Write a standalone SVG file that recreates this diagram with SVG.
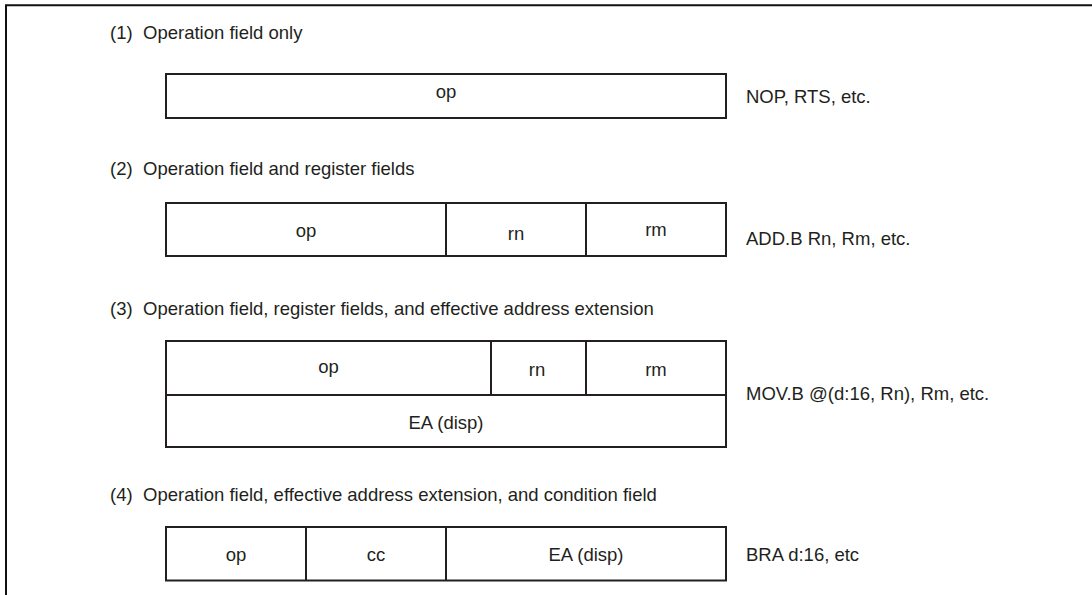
<svg xmlns="http://www.w3.org/2000/svg" width="1092" height="595" viewBox="0 0 1092 595">
  <style>
    .frame { fill: none; stroke: #111; stroke-width: 2; }
    .box { fill: #fff; stroke: #231f20; stroke-width: 2; }
    .div { stroke: #231f20; stroke-width: 2; }
    text { font-family: "Liberation Sans", Arial, sans-serif; font-size: 18.5px; fill: #231f20; }
    .c { text-anchor: middle; }
  </style>
  <rect width="1092" height="595" fill="#fff"/>
  <path class="frame" d="M1092,5.3 H6 V595"/>

  <g id="section1">
    <text x="110" y="39">(1)</text>
    <text x="143" y="39">Operation field only</text>
    <g id="box1">
      <rect class="box" x="166" y="74" width="560" height="44"/>
      <text class="c" x="446" y="98">op</text>
    </g>
    <text x="746" y="103">NOP, RTS, etc.</text>
  </g>

  <g id="section2">
    <text x="110" y="175">(2)</text>
    <text x="143" y="175">Operation field and register fields</text>
    <g id="box2">
      <rect class="box" x="166" y="203" width="560" height="53"/>
      <line class="div" x1="446" y1="203" x2="446" y2="256"/>
      <line class="div" x1="586" y1="203" x2="586" y2="256"/>
      <text class="c" x="306" y="237">op</text>
      <text class="c" x="516" y="240">rn</text>
      <text class="c" x="656" y="236">rm</text>
    </g>
    <text x="746" y="245">ADD.B Rn, Rm, etc.</text>
  </g>

  <g id="section3">
    <text x="110" y="315">(3)</text>
    <text x="143" y="315">Operation field, register fields, and effective address extension</text>
    <g id="box3">
      <rect class="box" x="166" y="341" width="560" height="106"/>
      <line class="div" x1="166" y1="395" x2="726" y2="395"/>
      <line class="div" x1="491" y1="341" x2="491" y2="395"/>
      <line class="div" x1="586" y1="341" x2="586" y2="395"/>
      <text class="c" x="328.5" y="373">op</text>
      <text class="c" x="537" y="376">rn</text>
      <text class="c" x="656" y="376">rm</text>
      <text class="c" x="446" y="429">EA (disp)</text>
    </g>
    <text x="746" y="400">MOV.B @(d:16, Rn), Rm, etc.</text>
  </g>

  <g id="section4">
    <text x="110" y="501">(4)</text>
    <text x="143" y="501">Operation field, effective address extension, and condition field</text>
    <g id="box4">
      <rect class="box" x="166" y="527" width="560" height="53.5"/>
      <line class="div" x1="306" y1="527" x2="306" y2="580.5"/>
      <line class="div" x1="446" y1="527" x2="446" y2="580.5"/>
      <text class="c" x="236" y="561">op</text>
      <text class="c" x="376" y="561">cc</text>
      <text class="c" x="586" y="561">EA (disp)</text>
    </g>
    <text x="746" y="561">BRA d:16, etc</text>
  </g>
</svg>
